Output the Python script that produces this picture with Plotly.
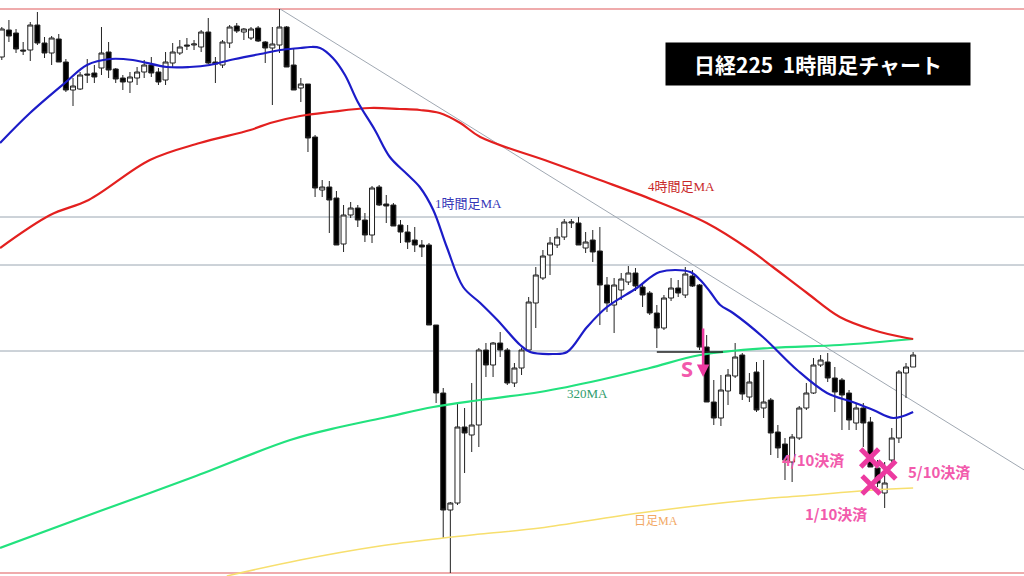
import plotly.graph_objects as go

# ---- candle data (hourly, price units) ----
opens = [543,570,567,550,550,575,557,547,561,538,510,511,526,527,532,548,531,522,518,522,
         528,535,528,520,537,547,555,555,553,568,538,535,557,574,568,562,572,558,552,555,
         573,535,512,516,463,410,413,402,356,385,392,380,365,413,396,395,375,368,360,355,
         355,275,207,90,97,173,165,175,250,235,257,250,217,232,250,297,322,345,355,363,
         377,377,352,360,349,315,295,310,318,327,313,307,287,272,302,312,305,324,315,253,
         198,182,209,224,245,203,228,192,200,168,156,138,162,192,207,235,238,222,220,207,
         177,192,178,132,107,140,162,227,233]
highs = [573,580,571,558,578,588,563,564,566,541,522,528,541,535,573,558,532,525,528,533,
         540,543,532,548,557,560,562,560,570,582,543,560,575,577,572,573,574,559,573,591,
         574,552,522,516,465,420,419,409,395,398,395,387,414,415,405,397,380,375,373,360,
         357,275,212,98,197,192,217,252,257,258,268,252,237,252,303,333,350,363,372,381,
         381,383,368,370,373,323,322,327,334,332,317,309,295,305,322,320,333,330,316,265,
         220,225,231,257,247,227,238,240,202,175,162,166,194,217,242,245,247,233,222,210,
         197,197,183,140,138,172,230,237,248]
lows = [540,558,547,545,539,555,542,535,538,508,494,510,517,517,525,522,517,510,507,515,
        522,523,515,515,533,545,550,550,548,536,517,532,552,567,560,560,558,537,495,547,
        533,510,498,448,403,403,367,355,348,382,373,358,357,394,377,374,357,351,348,343,
        275,197,62,27,95,127,148,153,223,223,243,215,213,225,248,272,320,325,352,360,
        372,355,347,338,275,288,267,300,315,309,293,285,252,270,299,303,302,313,250,198,
        175,174,195,222,200,198,188,182,145,142,120,118,160,190,206,233,218,188,170,170,
        170,153,133,113,92,138,157,202,233]
closes = [571,564,551,549,575,557,547,562,538,510,514,525,525,523,547,530,521,518,523,528,
          535,527,518,538,548,553,554,556,568,537,536,558,573,569,571,571,559,552,556,573,
          533,510,516,462,412,413,400,355,385,392,380,365,412,395,394,374,368,358,355,353,
          275,207,90,97,173,167,175,250,235,257,250,217,232,250,298,325,344,357,363,378,
          378,355,358,348,315,297,315,321,327,314,305,287,272,302,312,307,326,314,253,198,
          182,210,225,243,206,218,190,198,167,152,140,163,192,207,235,240,222,208,205,180,
          192,177,133,117,117,162,228,233,245]
idx = list(range(len(opens)))

# ---- moving averages (x in candle index, value in price) ----
ma1h_x = [-0.25,3.96,9.02,11.97,15.2,18.4,23.2,26.4,29.2,32.1,36.3,39.1,41.9,43.3,44.7,46.5,48.2,50.0,
          52.4,54.5,56.9,58.7,60.6,62.5,64.8,67.2,69.6,72.8,74.2,77.4,79.4,82.2,85.0,89.2,92.4,96.7,
          98.1,99.5,100.9,102.7,106.9,111.7,115.9,119.5,122.4,125.2,128.0]
ma1h_y = [457,487,518,535,541,540,533,533,535,540,546,550,552,553,552,542,525,498,
          470,443,426,413,390,353,313,297,280,255,248,246,248,273,293,312,328,328,
          320,308,295,287,263,230,207,198,190,182,188]
ma4h_x = [-0.25,6.8,12.2,20.8,27.8,34.9,37.7,41.9,46.1,51.7,55.9,58.7,61.5,64.4,67.2,77.0,84.0,
          91.5,99.0,105.1,108.3,113.1,117.7,122.4,127.1,128.0]
ma4h_y = [352,385,400,440,457,470,477,484,488,492,491,490,487,477,463,438,420,
          400,377,350,333,307,283,270,262,261]
ma320_x = [-0.25,13.8,26.9,40.5,47.5,54.1,60.6,67.2,75.6,84.0,91.0,98.1,107.9,117.7,128.0]
ma320_y = [52,89,123,160,173,183,193,200,208,220,232,245,252,255,261]
mad_x = [31.6,41.9,53.1,62.0,67.2,75.6,89.6,105.1,112.1,122.4,128.0]
mad_y = [24,40,54,62,66,72,87,100,104,110,112]

gray_levels = [383, 335, 249]
red_levels = [591, 27]
trend_pts = [(39.1, 591), (143.6, 130)]
support = (92, 101.3, 248)
exit_marks_x = [121.9, 122.1, 124.3]
exit_marks_y = [142, 115, 130]
exit_labels = [("4/10決済", 113.9, 141), ("5/10決済", 131.6, 129), ("1/10決済", 117.2, 87)]
title_text = "日経225\u00a0\u00a01時間足チャート"

fig = go.Figure()

fig.add_trace(go.Scatter(x=mad_x, y=mad_y, mode="lines", line=dict(color="#f7df6e", width=1.5, shape="spline"), hoverinfo="skip"))
fig.add_trace(go.Scatter(x=ma320_x, y=ma320_y, mode="lines", line=dict(color="#22e27e", width=2.2, shape="spline"), hoverinfo="skip"))
fig.add_trace(go.Scatter(x=ma4h_x, y=ma4h_y, mode="lines", line=dict(color="#e3201f", width=2.2, shape="spline"), hoverinfo="skip"))

fig.add_trace(go.Candlestick(
    x=idx, open=opens, high=highs, low=lows, close=closes,
    increasing=dict(fillcolor="#ffffff", line=dict(color="#222222", width=1)),
    decreasing=dict(fillcolor="#000000", line=dict(color="#222222", width=1)),
    whiskerwidth=0, hoverinfo="skip"))

fig.add_trace(go.Scatter(x=ma1h_x, y=ma1h_y, mode="lines", line=dict(color="#1c1cc8", width=2.2, shape="spline"), hoverinfo="skip"))

fig.add_trace(go.Scatter(x=exit_marks_x, y=exit_marks_y, mode="markers",
                         marker=dict(symbol="x-thin", size=18, color="#ec3aa0", line=dict(width=5, color="#ec3aa0")),
                         hoverinfo="skip"))

shapes = []
for lv in gray_levels:
    shapes.append(dict(type="line", xref="paper", x0=0, x1=1, yref="y", y0=lv, y1=lv,
                       line=dict(color="#9aa6b2", width=1), layer="below"))
for lv in red_levels:
    shapes.append(dict(type="line", xref="paper", x0=0, x1=1, yref="y", y0=lv, y1=lv,
                       line=dict(color="#e0585a", width=1.2), layer="below"))
shapes.append(dict(type="line", x0=trend_pts[0][0], y0=trend_pts[0][1], x1=trend_pts[1][0], y1=trend_pts[1][1],
                   line=dict(color="#a0a8b2", width=1), layer="below"))
shapes.append(dict(type="line", x0=support[0], x1=support[1], y0=support[2], y1=support[2],
                   line=dict(color="#222222", width=1.5)))

ann = []
ann.append(dict(x=818/1024, y=1-64/576, xref="paper", yref="paper", xanchor="center", yanchor="middle",
                text="<b>" + title_text + "</b>",
                showarrow=False, width=300, height=38, bgcolor="#000000", borderpad=2,
                align="center", valign="middle",
                font=dict(family="Noto Sans CJK JP", size=21, color="#ffffff")))
lab_font = "Liberation Serif, Noto Sans CJK JP"
ann.append(dict(x=65.6, y=397, text="1時間足MA", showarrow=False, font=dict(family=lab_font, size=13, color="#3636b8")))
ann.append(dict(x=95.4, y=414, text="4時間足MA", showarrow=False, font=dict(family=lab_font, size=13, color="#c8282a")))
ann.append(dict(x=82.3, y=207, text="320MA", showarrow=False, font=dict(family=lab_font, size=13, color="#2f9c6c")))
ann.append(dict(x=91.9, y=79, text="日足MA", showarrow=False, font=dict(family=lab_font, size=12, color="#f2a864")))
ann.append(dict(x=98.5, y=223, ax=98.5, ay=273, xref="x", yref="y", axref="x", ayref="y", text="",
                showarrow=True, arrowhead=2, arrowsize=1, arrowwidth=2.5, arrowcolor="#ec3aa0"))
ann.append(dict(x=96.2, y=232, text="<b>S</b>", showarrow=False, font=dict(family="Noto Sans", size=22, color="#f25aac")))
for t, xx, yy in exit_labels:
    ann.append(dict(x=xx, y=yy, text="<b>" + t + "</b>", showarrow=False,
                    font=dict(family="Noto Sans CJK JP", size=15, color="#f25aac")))

fig.update_layout(
    width=1024, height=576, margin=dict(l=0, r=0, t=0, b=0),
    paper_bgcolor="#ffffff", plot_bgcolor="#ffffff", showlegend=False,
    boxgap=0.3, boxgroupgap=0,
    shapes=shapes, annotations=ann,
    xaxis=dict(range=[-0.253, 143.57], visible=False, rangeslider=dict(visible=False), fixedrange=True),
    yaxis=dict(range=[24, 600], visible=False, fixedrange=True),
)

fig.write_html("out.html", config={"displayModeBar": False},
               post_script="document.body.style.margin='0';document.body.style.padding='0';")
